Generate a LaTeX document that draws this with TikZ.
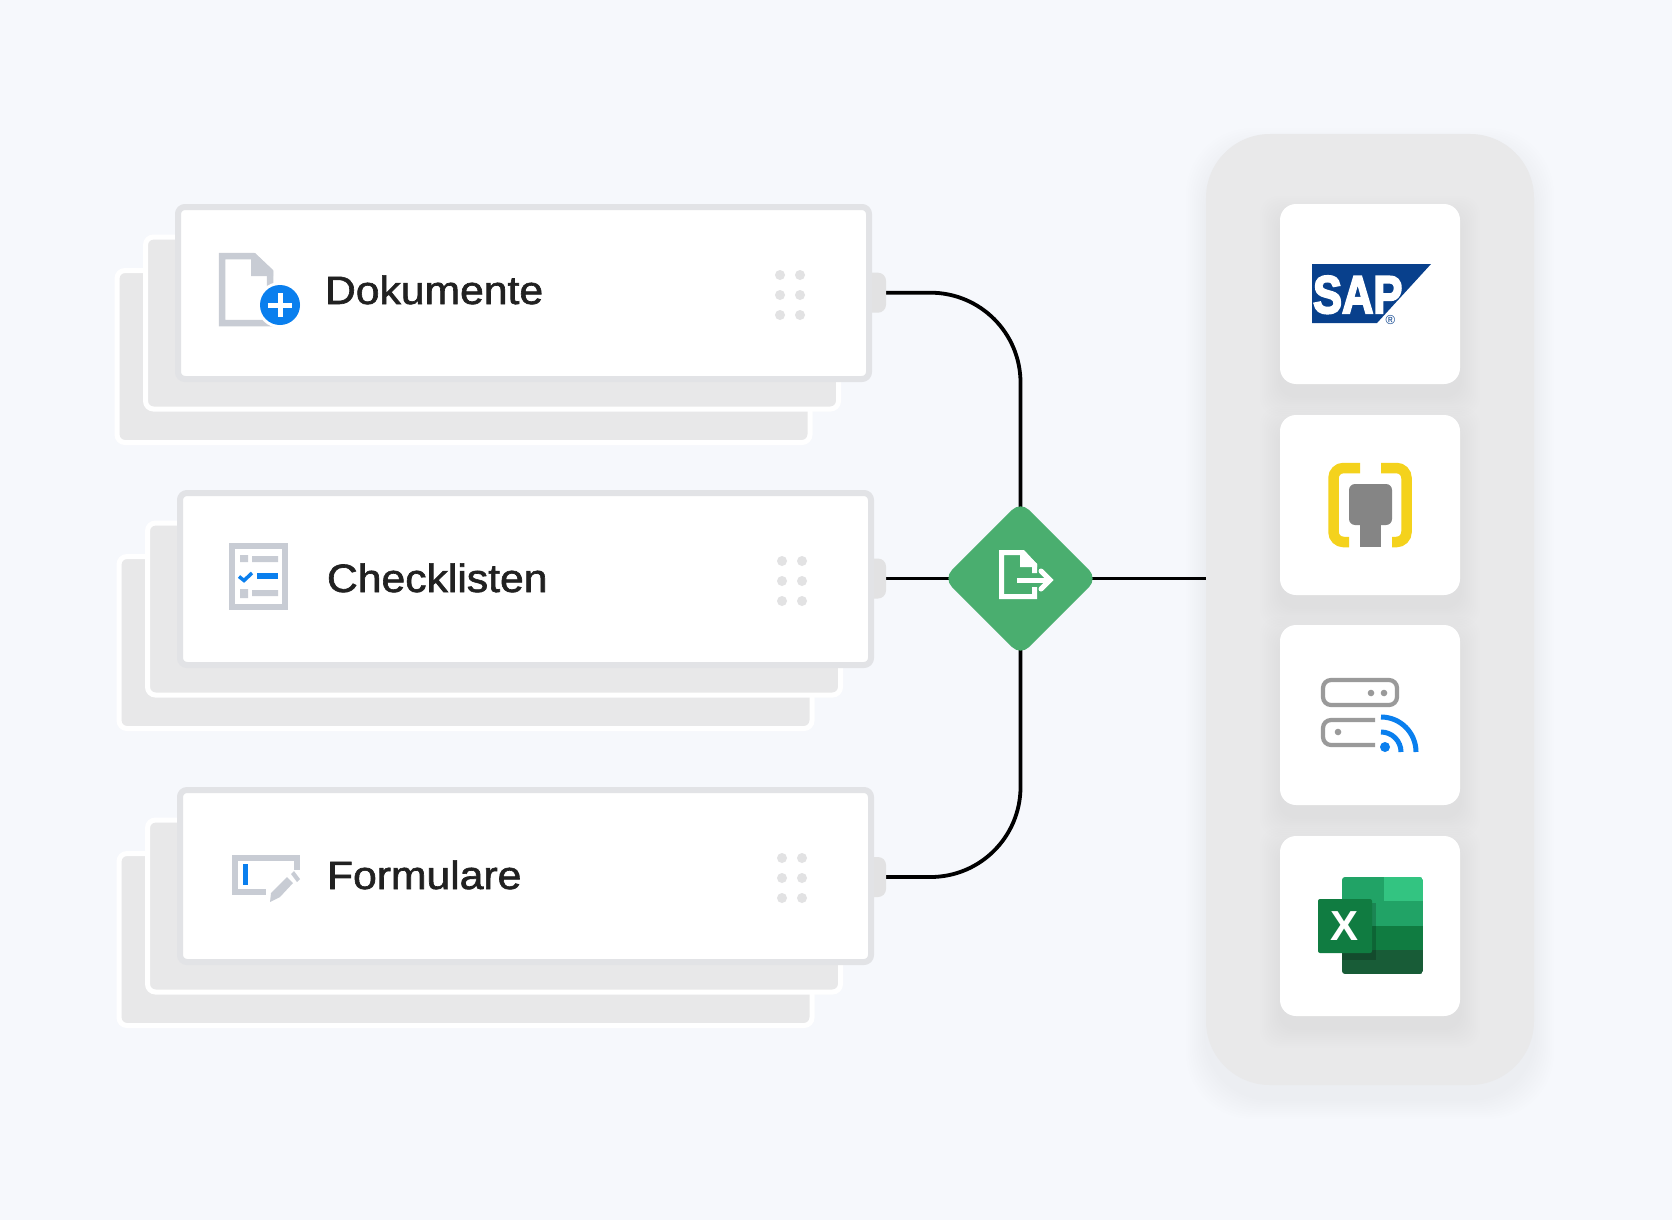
\documentclass[tikz,border=0pt]{standalone}
\usepackage{fontspec}
\usepackage{graphicx}
\setmainfont{Liberation Sans}
\newfontfamily\labelfont[FakeBold=1.6,FakeStretch=1.08]{Liberation Sans}
\newfontfamily\logofont[FakeBold=4]{Liberation Sans Bold}
\usetikzlibrary{backgrounds}
\definecolor{pagebg}{HTML}{F6F8FC}
\definecolor{cardedge}{HTML}{E2E3E6}
\definecolor{layergray}{HTML}{E8E8E9}
\definecolor{tabgray}{HTML}{E2E2E3}
\definecolor{panelgray}{HTML}{E9E9EA}
\definecolor{iconslate}{HTML}{C8CCD4}
\definecolor{iconblue}{HTML}{0A7FEE}
\definecolor{diagreen}{HTML}{4AAE6F}
\definecolor{sapblue}{HTML}{08408C}
\definecolor{brackyellow}{HTML}{F4D21C}
\definecolor{plugray}{HTML}{858585}
\definecolor{srvgray}{HTML}{9A9A9A}
\definecolor{xlA}{HTML}{21A366}
\definecolor{xlB}{HTML}{33C481}
\definecolor{xlC}{HTML}{107C41}
\definecolor{xlD}{HTML}{185C37}
\tikzset{
  every node/.style={inner sep=0pt,outer sep=0pt},
  topcard/.style={draw=cardedge,fill=white,line width=6pt,rounded corners=7pt,minimum width=691pt,minimum height=172pt},
  backcard/.style={draw=white,fill=layergray,line width=5pt,rounded corners=8pt,minimum width=693pt,minimum height=172pt},
  porttab/.style={fill=tabgray,rounded corners=8pt,minimum width=24pt,minimum height=40pt},
  griptdot/.style={fill=tabgray,circle,minimum size=10pt},
  cardlabel/.style={anchor=base west,text=black!87,font=\labelfont\fontsize{39.5}{46}\selectfont},
  connector/.style={draw=black,line width=3.8pt,rounded corners=90pt},
  whitebox/.style={fill=white,rounded corners=16pt,minimum width=180pt,minimum height=180pt},
  iconline/.style={draw=iconslate,line width=6.5pt,line join=miter},
  srvline/.style={draw=srvgray,line width=4.2pt,line cap=round},
  wifiline/.style={draw=iconblue,line width=5pt},
  docwhite/.style={draw=white,line width=5pt}
}
\newcommand{\cardstack}[4]{%
  \begin{scope}[shift={(#2,#3)}]
    \node[backcard] (#1back) at (463.5,356.5) {};
    \node[backcard] (#1mid) at (492,323) {};
    \node[porttab] (#1port) at (874-#2,#4) {};
    \node[topcard] (#1card) at (523.5,293) {};
    \foreach \dx/\dy [count=\k] in {780/275,800/275,780/295,800/295,780/315,800/315}
      \node[griptdot] (#1dot\k) at (\dx,\dy) {};
  \end{scope}}
\begin{document}
\begin{tikzpicture}[x=1pt,y=-1pt]
\useasboundingbox (0,0) rectangle (1672,1220);
\begin{pgfonlayer}{background}
\fill[pagebg] (0,0) rectangle (1672,1220);
\end{pgfonlayer}
% panel
\foreach \i in {1,...,10}
  \fill[black,opacity=0.002,rounded corners=66pt] (1206-2*\i,134-2*\i+14) rectangle (1534+2*\i,1085+2*\i+14);
\node[fill=panelgray,rounded corners=64pt,minimum width=328pt,minimum height=951pt] (panel) at (1370,609.5) {};
% box shadows
\foreach \yc in {294,505,715,926}
  \foreach \i in {1,...,10}
    \fill[black,opacity=0.003,rounded corners=18pt] (1280-2*\i,\yc-90-2*\i+12) rectangle (1460+2*\i,\yc+90+2*\i+12);
\node[whitebox] (boxsap) at (1370,294) {};
\node[whitebox] (boxplug) at (1370,505) {};
\node[whitebox] (boxsrv) at (1370,715) {};
\node[whitebox] (boxxls) at (1370,926) {};
% cards
\cardstack{a}{0}{0}{292.7}
\cardstack{b}{2}{286}{292.5}
\cardstack{c}{2}{583}{294}
\node[cardlabel] (ldok) at (325,304) {Dokumente};
\node[cardlabel] (lchk) at (327,592) {Checklisten};
\node[cardlabel] (lfrm) at (327,889) {Formulare};
% document icon
\draw[iconline] (222,256.2) -- (253,256.2) -- (270,272) -- (270,323) -- (222,323) -- cycle;
\fill[iconslate] (251,254) -- (255,253) -- (273,270) -- (273,276) -- (251,276) -- cycle;
\fill[white] (280,305) circle (23);
\node[fill=iconblue,circle,minimum size=40pt] (plusdisc) at (280,305) {};
\draw[white,line width=5pt] (268,305) -- (292,305) (280,293) -- (280,317);
% checklist icon
\draw[iconline] (232.2,546.2) rectangle (285,607);
\fill[iconslate] (240,555) rectangle (248,562) (252,556) rectangle (278,562);
\fill[iconslate] (240,589) rectangle (248,598) (252,590) rectangle (278,596);
\draw[iconblue,line width=3.5pt] (239,576.5) -- (244,580.5) -- (252,573);
\fill[iconblue] (257,573) rectangle (278,579);
% form icon
\draw[iconline] (268,892) -- (235,892) -- (235,858) -- (297,858) -- (297,870);
\fill[iconblue] (243,864) rectangle (248,885);
\fill[white] (266,905) -- (266,888) -- (286,868) -- (304,884) -- (284,904) -- cycle;
\fill[iconslate] (270,902) -- (271,893) -- (287,877) -- (293,883) -- (280,897) -- cycle;
\fill[iconslate] (291,874) -- (294,871) -- (300,879) -- (297,882) -- cycle;
% SAP
\fill[sapblue] (1312,264) -- (1431,264) -- (1377,323) -- (1312,323) -- cycle;
\node[text=white,font=\logofont\fontsize{53}{53}\selectfont,anchor=base west] (saptext) at (1313,313) {\scalebox{0.82}[1]{SAP}};
\node[text=sapblue,font=\fontsize{13}{13}\selectfont] (sapreg) at (1390.5,320.5) {®};
% plug
\draw[brackyellow,line width=10.5pt,rounded corners=10pt] (1360,468) -- (1333.5,468) -- (1333.5,542) -- (1349,542);
\draw[brackyellow,line width=10.5pt,rounded corners=10pt] (1381,468) -- (1406.5,468) -- (1406.5,542) -- (1392,542);
\fill[plugray,rounded corners=6pt] (1349,484) rectangle (1392,525);
\fill[plugray] (1360,515) rectangle (1381,547);
% server
\draw[srvline,rounded corners=8pt] (1323,680) rectangle (1397,705);
\fill[srvgray] (1371,693) circle (3.3) (1384,693) circle (3.3) (1338,732) circle (3.3);
\draw[srvline,line cap=butt,rounded corners=8pt] (1375,720) -- (1323,720) -- (1323,745) -- (1375,745);
\fill[iconblue] (1385,747) circle (5);
\draw[wifiline] (1381,717) arc[start angle=-90,end angle=0,radius=35];
\draw[wifiline] (1381,732) arc[start angle=-90,end angle=0,radius=20];
% excel
\begin{scope}
\clip[rounded corners=3pt] (1342,877) rectangle (1423,974);
\fill[xlA] (1342,877) rectangle (1384,926);
\fill[xlB] (1384,877) rectangle (1423,901);
\fill[xlA] (1384,901) rectangle (1423,926);
\fill[xlC] (1342,926) rectangle (1423,950);
\fill[xlD] (1342,950) rectangle (1423,974);
\fill[black,opacity=0.18] (1342,903) rectangle (1376,960);
\end{scope}
\fill[xlC,rounded corners=2pt] (1318,899) rectangle (1372,953);
\node[text=white,font=\bfseries\fontsize{42}{42}\selectfont] (xlsx) at (1344.5,926) {X};
% gateway
\node[fill=diagreen,rotate=45,rounded corners=12pt,minimum size=109pt] (gate) at (1020.5,578.5) {};
\draw[docwhite,fill=none] (1034.5,573) -- (1034.5,565) -- (1021,552.5) -- (1001.5,552.5) -- (1001.5,596.5) -- (1034.5,596.5) -- (1034.5,587);
\fill[white] (1020,550) -- (1024,550) -- (1037,564) -- (1037,567) -- (1020,567) -- cycle;
\draw[docwhite] (1017,580) -- (1049,580);
\draw[docwhite,line cap=round] (1041,571) -- (1050,580) -- (1041,589);
% connectors
\begin{pgfonlayer}{background}
\draw[connector] (aport.east) -| (gate.center);
\draw[connector] (bport.east) -- (gate.center);
\draw[connector] (cport.east) -| (gate.center);
\draw[connector] (gate.center) -- (gate.center -| panel.west);
\end{pgfonlayer}
\end{tikzpicture}
\end{document}
